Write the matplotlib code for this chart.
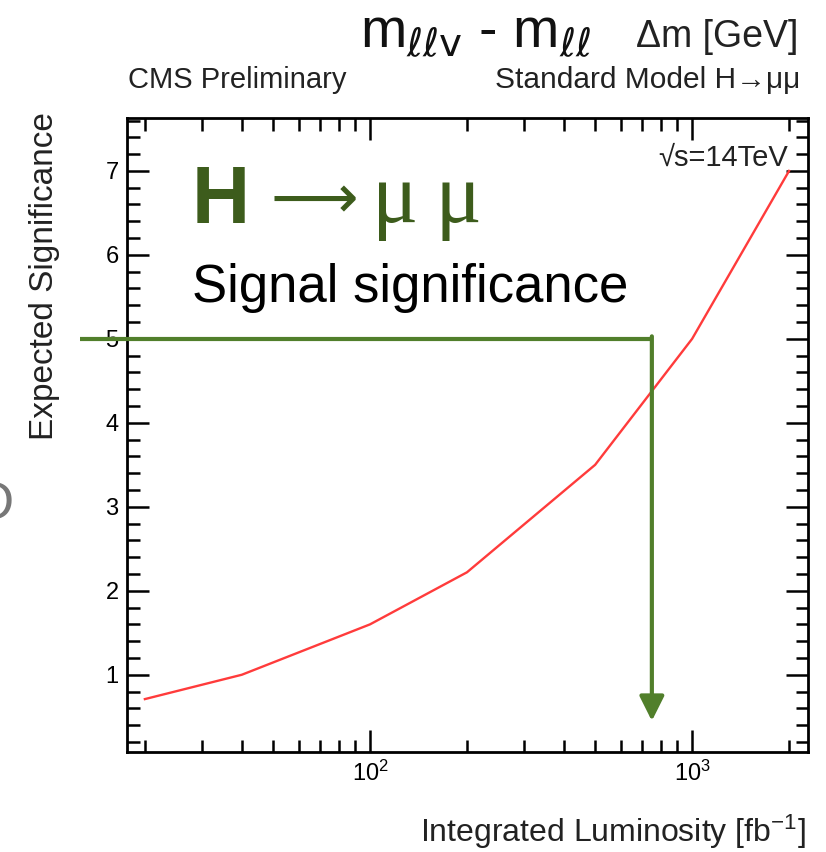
import matplotlib
matplotlib.use("Agg")
import matplotlib.pyplot as plt
from matplotlib.ticker import FixedLocator, NullFormatter, FixedFormatter

# Expected significance vs integrated luminosity
lumi = [20, 40, 100, 200, 500, 1000, 2000]
significance = [0.71, 1.0, 1.6, 2.22, 3.5, 5.0, 7.0]

# 5 sigma reference and the luminosity where it is reached
five_sigma = 5.0
lumi_at_five = 750
arrow_end = 0.45
line_start = 12.6

x_major = [100, 1000]
x_major_labels = [r"$\mathregular{10^{2}}$", r"$\mathregular{10^{3}}$"]
x_minor = [20, 30, 40, 50, 60, 70, 80, 90, 200, 300, 400, 500, 600, 700, 800, 900, 2000]
y_major = [1, 2, 3, 4, 5, 6, 7]
y_minor = [0.2 * i for i in range(1, 39)]

W, H = 826, 852
fig = plt.figure(figsize=(W / 100, H / 100), dpi=100)
plt.rcParams["font.family"] = ["Liberation Sans", "DejaVu Sans"]


def px(x, y):
    return x / W, 1 - y / H


ax = fig.add_axes([127 / W, 100 / H, 681 / W, 634 / H])
ax.set_xscale("log")
ax.set_xlim(17.6, 2290)
ax.set_ylim(0.08, 7.63)

ax.plot(lumi, significance, color="#ff3b3b", lw=1.7, zorder=3)

green = "#517f2b"
ax.plot([line_start, lumi_at_five], [five_sigma, five_sigma], color=green,
        lw=3.0, clip_on=False, zorder=4, solid_capstyle="butt")
ax.annotate("", xy=(lumi_at_five, arrow_end), xytext=(lumi_at_five, five_sigma + 0.03),
            arrowprops=dict(arrowstyle="-|>,head_length=1.5,head_width=0.75",
                            color=green, lw=3.0, shrinkA=0, shrinkB=0),
            zorder=4)

for s in ax.spines.values():
    s.set_linewidth(2.0)

ax.xaxis.set_major_locator(FixedLocator(x_major))
ax.xaxis.set_major_formatter(FixedFormatter(x_major_labels))
ax.xaxis.set_minor_locator(FixedLocator(x_minor))
ax.xaxis.set_minor_formatter(NullFormatter())
ax.yaxis.set_major_locator(FixedLocator(y_major))
ax.yaxis.set_minor_locator(FixedLocator(y_minor))

ax.tick_params(which="both", direction="in", top=True, right=True, width=1.8)
ax.tick_params(which="major", length=16, labelsize=17, pad=6)
ax.tick_params(which="minor", length=9)

# axis titles
fig.text(*px(45, 112), "Expected Significance", rotation=90, ha="center",
         va="top", fontsize=24, color="#222222")
fig.text(*px(806, 832), r"Integrated Luminosity [fb$\mathregular{^{-1}}$]", ha="right",
         va="center", fontsize=23, color="#222222")

# header texts
fig.text(*px(128, 80), "CMS Preliminary", ha="left", va="center",
         fontsize=21, color="#222222")
fig.text(*px(800, 80), "Standard Model H\u2192\u03bc\u03bc", ha="right",
         va="center", fontsize=21.5, color="#222222")
fig.text(*px(360, 47), r"m$_{\ell\ell\mathrm{v}}$ - m$_{\ell\ell}$", ha="left",
         va="baseline", fontsize=40, color="#111111")
fig.text(*px(798, 47), "\u0394m [GeV]", ha="right", va="baseline",
         fontsize=27, color="#222222")
fig.text(*px(788, 158), "\u221as=14TeV", ha="right", va="center",
         fontsize=21, color="#222222")

# annotation text
dark_green = "#3d5c1c"
fig.text(*px(192, 223), "H", ha="left", va="baseline", fontsize=58,
         fontweight="bold", color=dark_green)
fig.text(*px(270, 202), "\u27f6", ha="left", va="center", fontsize=44,
         family=["DejaVu Sans"], color=dark_green)
fig.text(*px(372, 222), "\u03bc\u2009\u03bc", ha="left", va="baseline", fontsize=62,
         family=["Liberation Serif", "DejaVu Serif"], color=dark_green)
fig.text(*px(192, 302), "Signal significance", ha="left", va="baseline",
         fontsize=38, color="black")

# clipped glyph at the left edge
fig.text(*px(14, 519), "D", ha="right", va="baseline", fontsize=38,
         color="#777777")

fig.savefig("out.png", dpi=100)
